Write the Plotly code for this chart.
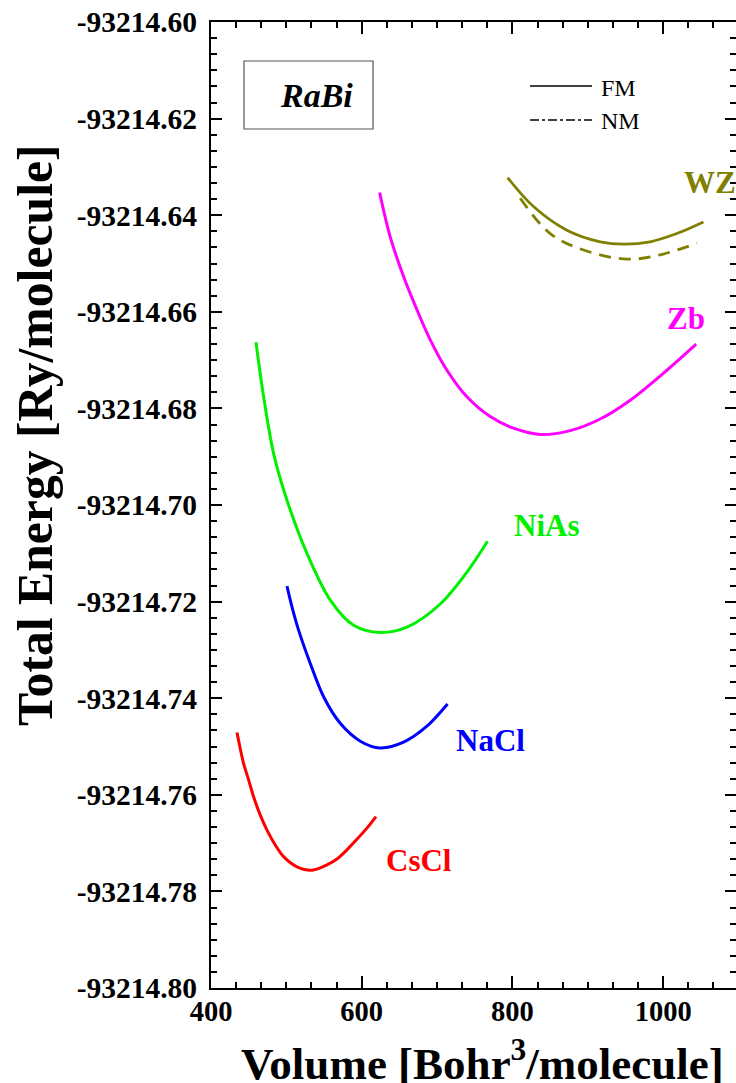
import plotly.graph_objects as go

# ---------------- data ----------------
cscl_v = [434.5, 443.2, 449.9, 456.5, 465.4, 474.3, 485.3, 496.3, 514.1, 534.0,
          553.9, 567.1, 580.4, 593.7, 606.9, 618.9]
cscl_e = [-93214.7471, -93214.7535, -93214.7569, -93214.7604, -93214.7642, -93214.7673,
          -93214.7704, -93214.7728, -93214.7749, -93214.7756, -93214.7745, -93214.7733,
          -93214.7714, -93214.7692, -93214.7669, -93214.7645]

nacl_v = [500.8, 507.8, 516.2, 531.7, 549.4, 571.5, 598.1, 624.6, 655.5, 686.5, 713.9]
nacl_e = [-93214.7168, -93214.7213, -93214.7259, -93214.7328, -93214.7397, -93214.7452,
          -93214.7489, -93214.7503, -93214.7491, -93214.7458, -93214.7412]

nias_v = [459.7, 469.8, 483.0, 500.8, 527.3, 558.3, 589.2, 624.6, 660.0, 704.2, 739.6, 766.9]
nias_e = [-93214.6663, -93214.6776, -93214.6893, -93214.6990, -93214.7100, -93214.7197,
          -93214.7249, -93214.7264, -93214.7253, -93214.7205, -93214.7139, -93214.7075]

zb_v = [623.7, 637.8, 655.5, 673.3, 690.9, 713.1, 739.6, 770.5, 801.4, 836.8, 876.6,
        916.4, 956.2, 1004.9, 1043.8]
zb_e = [-93214.6353, -93214.6445, -93214.6527, -93214.6596, -93214.6658, -93214.6721,
        -93214.6776, -93214.6817, -93214.6841, -93214.6854, -93214.6846, -93214.6822,
        -93214.6783, -93214.6721, -93214.6667]

wz_fm_v = [793.5, 827.9, 872.2, 916.4, 947.3, 982.7, 1018.1, 1053.4]
wz_fm_e = [-93214.6322, -93214.6382, -93214.6431, -93214.6455, -93214.6460,
           -93214.6455, -93214.6438, -93214.6414]

wz_nm_v = [810.3, 850.1, 894.3, 951.8, 996.0, 1044.7]
wz_nm_e = [-93214.6365, -93214.6438, -93214.6472, -93214.6491, -93214.6482, -93214.6458]

x_tick_vals = [400, 600, 800, 1000]
x_tick_text = ["400", "600", "800", "1000"]
y_tick_vals = [-93214.80, -93214.78, -93214.76, -93214.74, -93214.72, -93214.70,
               -93214.68, -93214.66, -93214.64, -93214.62, -93214.60]
y_tick_text = ["-93214.80", "-93214.78", "-93214.76", "-93214.74", "-93214.72",
               "-93214.70", "-93214.68", "-93214.66", "-93214.64", "-93214.62",
               "-93214.60"]

phase_labels = ["CsCl", "NaCl", "NiAs", "Zb", "WZ"]
phase_colors = ["#FF0000", "#0000FF", "#00F000", "#FF00FF", "#808000"]

# ---------------- figure ----------------
SERIF = "Liberation Serif, Times New Roman, serif"
W, H = 736, 1083
L, R, T, B = 211, 0, 22, 95
X_RANGE = [400, 1096.6]
Y_RANGE = [-93214.80, -93214.60]

fig = go.Figure()
series = [(cscl_v, cscl_e), (nacl_v, nacl_e), (nias_v, nias_e), (zb_v, zb_e)]
for (v, e), name, col in zip(series, phase_labels[:4], phase_colors[:4]):
    fig.add_trace(go.Scatter(x=v, y=e, mode="lines", name=name,
                             line=dict(color=col, width=3, shape="spline", smoothing=0.9),
                             showlegend=False))
fig.add_trace(go.Scatter(x=wz_fm_v, y=wz_fm_e, mode="lines", name="WZ FM",
                         line=dict(color=phase_colors[4], width=2.8, shape="spline"),
                         showlegend=False))
fig.add_trace(go.Scatter(x=wz_nm_v, y=wz_nm_e, mode="lines", name="WZ NM",
                         line=dict(color=phase_colors[4], width=2.8, shape="spline",
                                   dash="12px,8px"),
                         showlegend=False))
# empty trace on the right axis so its ticks render
fig.add_trace(go.Scatter(x=[None], y=[None], yaxis="y2", showlegend=False,
                         hoverinfo="skip"))

yfont = dict(family=SERIF, size=29.5, color="black", weight="bold")
xfont = dict(family=SERIF, size=28.5, color="black", weight="bold")
fig.update_layout(
    width=W, height=H,
    margin=dict(l=L, r=R, t=T, b=B, pad=0),
    paper_bgcolor="white", plot_bgcolor="white",
    showlegend=False,
    xaxis=dict(range=X_RANGE, showgrid=False, zeroline=False,
               showline=True, linecolor="black", linewidth=2, mirror="ticks",
               ticks="inside", ticklen=12, tickwidth=2, tickcolor="black",
               tickmode="array", tickvals=x_tick_vals, ticktext=x_tick_text,
               tickfont=xfont, ticklabelstandoff=-3,
               minor=dict(tickmode="linear", tick0=400, dtick=200 / 6,
                          ticks="inside", ticklen=6, tickwidth=1.5,
                          tickcolor="black", showgrid=False)),
    yaxis=dict(range=Y_RANGE, showgrid=False, zeroline=False,
               showline=True, linecolor="black", linewidth=2, mirror=False,
               ticks="inside", ticklen=11, tickwidth=2, tickcolor="black",
               tickmode="array", tickvals=y_tick_vals, ticktext=y_tick_text,
               tickfont=yfont, ticklabelstandoff=6,
               minor=dict(tickmode="linear", tick0=-93214.80, dtick=0.02 / 6,
                          ticks="inside", ticklen=6, tickwidth=1.5,
                          tickcolor="black", showgrid=False)),
    yaxis2=dict(range=Y_RANGE, overlaying="y", side="right", anchor="x",
                showgrid=False, zeroline=False, showline=False,
                showticklabels=False,
                ticks="inside", ticklen=11, tickwidth=2, tickcolor="black",
                tickmode="array", tickvals=y_tick_vals,
                minor=dict(tickmode="linear", tick0=-93214.80, dtick=0.02 / 6,
                           ticks="inside", ticklen=6, tickwidth=1.5,
                           tickcolor="black", showgrid=False)),
)

pw = W - L - R
ph = H - T - B


def px_x(px):
    return (px - L) / pw


def px_y(py):
    return (H - B - py) / ph


# phase labels (data coordinates)
label_pos = {"CsCl": (629.9, -93214.7735), "NaCl": (722.7, -93214.7487),
             "NiAs": (799.7, -93214.7043), "Zb": (1002.6, -93214.6613),
             "WZ": (1025.2, -93214.6333)}
for name, col in zip(phase_labels, phase_colors):
    lx, ly = label_pos[name]
    fig.add_annotation(x=lx, y=ly, xref="x", yref="y", text=name, showarrow=False,
                       xanchor="left", yanchor="middle",
                       font=dict(family=SERIF, size=31, color=col, weight="bold"))

# axis titles
fig.add_annotation(x=px_x(482), y=px_y(1060), xref="paper", yref="paper",
                   text="Volume [Bohr<sup>3</sup>/molecule]", showarrow=False,
                   xanchor="center", yanchor="middle",
                   font=dict(family=SERIF, size=45, color="black", weight="bold"))
fig.add_annotation(x=px_x(35), y=px_y(435), xref="paper", yref="paper",
                   text="Total Energy [Ry/molecule]", showarrow=False, textangle=-90,
                   xanchor="center", yanchor="middle",
                   font=dict(family=SERIF, size=49.7, color="black", weight="bold"))

# RaBi box
fig.add_shape(type="rect", xref="paper", yref="paper",
              x0=px_x(244), x1=px_x(373), y0=px_y(61), y1=px_y(129),
              line=dict(color="#555555", width=1.2), fillcolor="rgba(0,0,0,0)")
fig.add_annotation(x=px_x(316), y=px_y(96), xref="paper", yref="paper",
                   text="<i>RaBi</i>", showarrow=False, xanchor="center",
                   yanchor="middle",
                   font=dict(family=SERIF, size=34, color="black", weight="bold"))

# FM / NM key
fig.add_shape(type="line", xref="paper", yref="paper",
              x0=px_x(530), x1=px_x(592), y0=px_y(86), y1=px_y(86),
              line=dict(color="black", width=1.5))
fig.add_shape(type="line", xref="paper", yref="paper",
              x0=px_x(530), x1=px_x(592), y0=px_y(120), y1=px_y(120),
              line=dict(color="black", width=1.5, dash="dashdot"))
fig.add_annotation(x=px_x(599), y=px_y(88), xref="paper", yref="paper", text="FM",
                   showarrow=False, xanchor="left", yanchor="middle",
                   font=dict(family=SERIF, size=24, color="black"))
fig.add_annotation(x=px_x(599), y=px_y(121), xref="paper", yref="paper", text="NM",
                   showarrow=False, xanchor="left", yanchor="middle",
                   font=dict(family=SERIF, size=24, color="black"))

fig.write_html("out.html",
               config={"displayModeBar": False},
               post_script="document.body.style.margin='0';"
                           "document.body.style.overflow='hidden';")
